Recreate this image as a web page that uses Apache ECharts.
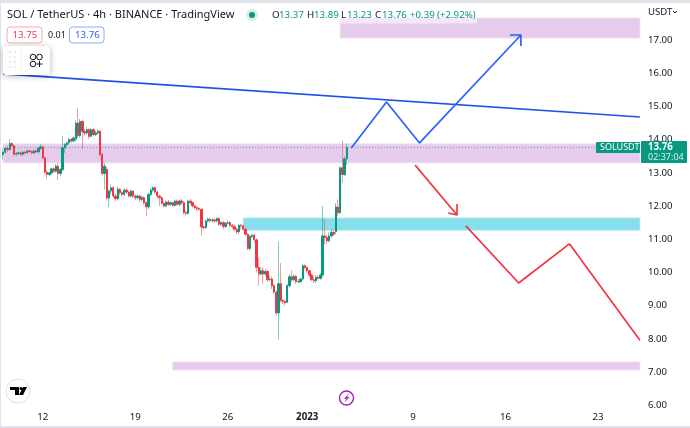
<!DOCTYPE html>
<html><head><meta charset="utf-8">
<script src="https://cdn.jsdelivr.net/npm/echarts@6/dist/echarts.min.js"></script>
<style>html,body{margin:0;padding:0;background:#fff}#c{width:690px;height:428px}</style>
</head><body><div id="c"></div>
<script>
const opens=[13.55,13.62,13.73,13.70,13.88,13.82,13.56,13.58,13.60,13.56,
13.62,13.60,13.66,13.64,13.60,13.66,13.63,13.74,13.78,13.45,
13.02,12.95,13.00,13.12,13.05,13.20,12.98,13.10,13.75,13.85,
13.90,14.00,13.96,14.02,14.50,14.12,14.55,14.25,14.20,14.30,
14.10,14.30,14.15,14.20,14.25,13.55,12.98,13.10,12.24,12.45,
12.55,12.30,12.22,12.50,12.40,12.35,12.48,12.42,12.30,12.45,
12.30,12.25,12.30,12.20,12.25,12.10,11.97,12.35,12.48,12.55,
12.42,12.30,12.25,12.08,12.00,12.12,12.05,12.10,12.02,12.15,
12.05,12.15,12.10,11.80,11.78,12.15,12.10,12.00,11.95,11.92,
11.90,11.37,11.35,11.55,11.60,11.56,11.58,11.55,11.62,11.45,
11.50,11.38,11.48,11.50,11.42,11.38,11.30,11.22,11.42,11.40,
11.30,11.15,10.72,11.08,11.12,10.98,10.15,9.95,10.05,9.95,
10.03,9.78,9.80,9.60,9.41,8.78,9.66,9.15,9.12,9.10,
9.60,9.87,9.78,9.88,9.72,9.72,9.80,10.20,10.15,10.05,
9.92,9.78,9.75,9.85,9.82,9.92,11.10,11.05,10.95,11.10,
11.20,11.22,11.97,11.80,13.15,12.95,13.42];
const closes=[13.62,13.73,13.70,13.88,13.82,13.56,13.58,13.60,13.56,13.62,
13.60,13.66,13.64,13.60,13.66,13.63,13.74,13.78,13.45,13.02,
12.95,13.00,13.12,13.05,13.20,12.98,13.10,13.75,13.85,13.90,
14.00,13.96,14.05,14.50,14.12,14.55,14.25,14.20,14.30,14.10,
14.30,14.15,14.20,14.25,13.55,12.98,13.20,12.24,12.45,12.55,
12.30,12.22,12.50,12.40,12.35,12.48,12.42,12.30,12.45,12.30,
12.25,12.30,12.20,12.25,12.10,11.97,12.35,12.48,12.55,12.42,
12.30,12.25,12.08,12.00,12.12,12.05,12.10,12.02,12.15,12.05,
12.15,12.10,11.80,11.78,12.15,12.10,12.00,11.95,11.92,11.90,
11.37,11.35,11.55,11.60,11.56,11.58,11.55,11.62,11.45,11.50,
11.38,11.48,11.50,11.42,11.38,11.30,11.22,11.42,11.40,11.30,
11.15,10.72,11.08,11.12,10.98,10.15,9.95,10.05,9.95,10.03,
9.78,9.80,9.60,9.41,8.78,9.66,9.15,9.12,9.08,9.60,
9.87,9.78,9.88,9.72,9.72,9.80,10.20,10.15,10.05,9.92,
9.78,9.75,9.85,9.82,9.92,11.10,11.05,10.95,11.10,11.20,
11.15,11.97,11.80,13.15,12.95,13.42,13.76];
const highs=[13.72,13.78,13.80,14.02,13.92,13.84,13.62,13.64,13.64,13.66,
13.66,13.70,13.70,13.68,13.70,13.70,13.78,13.86,13.82,13.48,
13.08,13.02,13.16,13.16,13.26,13.28,13.14,14.12,13.90,13.95,
14.05,14.05,14.10,14.58,14.95,14.62,14.58,14.32,14.38,14.34,
14.36,14.34,14.26,14.32,14.30,13.60,13.30,13.18,12.50,12.65,
12.60,12.38,12.58,12.54,12.45,12.54,12.52,12.46,12.50,12.48,
12.36,12.34,12.34,12.32,12.30,12.14,12.40,12.55,12.60,12.58,
12.46,12.34,12.28,12.12,12.16,12.18,12.12,12.14,12.20,12.20,
12.20,12.22,12.14,11.85,12.20,12.22,12.14,12.05,12.00,11.96,
11.93,11.42,11.60,11.66,11.66,11.64,11.62,11.66,11.66,11.54,
11.54,11.52,11.56,11.54,11.46,11.44,11.34,11.45,11.46,11.44,
11.34,11.18,11.12,11.16,11.15,11.02,10.45,10.15,10.15,10.10,
10.06,9.90,9.88,9.65,9.45,10.92,10.28,9.20,9.18,9.65,
9.95,10.06,9.94,9.92,9.80,9.85,10.25,10.24,10.18,10.08,
9.96,9.88,9.92,9.92,9.98,12.00,11.60,11.12,11.20,11.30,
11.30,12.09,12.20,13.20,13.97,13.50,13.89];
const lows=[13.40,13.58,13.62,13.66,13.78,13.50,13.50,13.54,13.50,13.52,
13.55,13.56,13.60,13.55,13.58,13.58,13.58,13.68,13.42,12.96,
12.80,12.90,12.94,13.00,13.00,12.78,12.90,13.05,13.60,13.80,
13.85,13.90,13.92,13.96,14.05,14.05,13.72,14.10,14.15,14.02,
14.06,14.10,14.10,14.15,13.50,12.90,12.50,12.20,11.97,12.35,
12.24,12.15,12.18,12.32,12.28,12.30,12.36,12.25,12.25,12.24,
12.18,12.20,12.12,12.15,12.04,11.70,11.90,12.30,12.42,12.36,
12.24,12.00,12.04,11.96,11.96,12.00,12.00,11.98,11.98,12.00,
11.98,12.05,11.75,11.72,11.74,12.05,11.96,11.90,11.85,11.85,
11.10,11.30,11.30,11.50,11.50,11.50,11.50,11.50,11.40,11.40,
11.30,11.34,11.44,11.36,11.32,11.24,11.15,11.16,11.30,11.26,
11.10,10.68,10.65,11.02,10.90,10.00,9.60,9.90,9.65,9.88,
9.72,9.72,9.50,9.35,8.70,7.97,9.10,9.05,9.00,9.08,
9.55,9.72,9.72,9.65,9.68,9.68,9.75,10.10,9.98,9.85,
9.75,9.68,9.68,9.78,9.78,9.85,10.85,10.85,10.90,11.05,
11.10,11.15,11.70,11.75,12.70,12.90,13.23];
const slotCount=290;
const dayTicks=[[18,'12'],[60,'19'],[102,'26'],[138,'2023'],[186,'9'],[228,'16'],[270,'23']];
const purpleZones=[[153,17.66,17.06],[0,13.87,13.3],[77,7.3,7.06]];
const cyanZones=[[109,11.64,11.27]];
const lastPrice=13.76;
const trendLine=[[0,15.98],[289,14.68]];
const bluePath=[[158,13.75],[174,15.13],[189,13.9],[235,17.15]];
const blueHead=[[230,17.15],[235,17.15],[235,16.82]];
const redArrow=[[187,13.23],[206,11.73]];
const redHead=[[202,11.79],[206,11.73],[206,12.06]];
const redPath=[[210,11.4],[234,9.68],[257,10.86],[289,7.96]];

const UP='#089981',DOWN='#F23645',BLUE='#2962FF',INK='#131722',FONT='"Noto Sans",sans-serif';
const tickMap=new Map(dayTicks);
const categories=Array.from({length:slotCount},(_,i)=>String(i));
const wickData=opens.map((o,i)=>[o,closes[i],lows[i],highs[i]]);
const bodyData=opens.map((o,i)=>[o,closes[i],Math.min(o,closes[i]),Math.max(o,closes[i])]);
const zone=(z,color,edge)=>[{xAxis:z[0],yAxis:z[1],itemStyle:{color,borderColor:edge,borderWidth:1}},{xAxis:slotCount-1,yAxis:z[2]}];
const poly=(data,color,w)=>({type:'line',data,symbol:'none',silent:true,z:6,animation:false,lineStyle:{color,width:w||1.7}});
const txt=(x,y,text,fill,extra)=>({type:'text',x,y,z:100,style:Object.assign({text,fill,font:'9.7px '+FONT,textVerticalAlign:'middle'},extra||{})});
const rect=(x,y,w,h,fill,extra)=>({type:'rect',z:99,shape:{x,y,width:w,height:h,r:(extra&&extra.r)||0},style:Object.assign({fill},extra&&extra.style||{})});
const circ=(cx,cy,r,style)=>({type:'circle',z:101,shape:{cx,cy,r},style});
const stroke={fill:'none',stroke:INK,lineWidth:1};
const dots=[];[52,57,62,67].forEach(y=>[10,15].forEach(x=>dots.push(circ(x,y,.7,{fill:'#c4c8d2'}))));

const chart=echarts.init(document.getElementById('c'),null,{renderer:'canvas'});
chart.setOption({
 animation:false,backgroundColor:'#fff',
 grid:{left:2,right:49,top:6.8,bottom:22.8},
 xAxis:{type:'category',data:categories,boundaryGap:true,
  axisLine:{show:false},axisTick:{show:false},splitLine:{show:false},
  axisLabel:{interval:i=>tickMap.has(i),margin:7,color:INK,fontFamily:FONT,fontSize:9.7,
   formatter:(v,i)=>{const t=tickMap.get(i);return t==='2023'?'{b|2023}':(t||'')},
   rich:{b:{fontWeight:'bold',fontSize:9.7,color:INK,fontFamily:FONT}}}},
 yAxis:{type:'value',position:'right',min:6,max:18,interval:1,scale:true,
  axisLine:{show:false},axisTick:{show:false},splitLine:{show:false},
  axisLabel:{margin:7,color:INK,fontFamily:FONT,fontSize:9.6,showMinLabel:true,
   formatter:v=>v===18?'':v.toFixed(2)}},
 series:[
  {type:'line',data:[],silent:true,z:1,markArea:{silent:true,z:1,data:[
    ...purpleZones.map(z=>zone(z,'#E6CCEC','#EFDDF2')),
    ...cyanZones.map(z=>zone(z,'#85DEEA','#B5EAF2'))]}},
  {type:'line',data:[[0,lastPrice],[slotCount-1,lastPrice]],symbol:'none',silent:true,z:2,
   lineStyle:{color:UP,width:1,type:[1,2],opacity:.65}},
  {type:'candlestick',data:wickData,barWidth:1,z:3,silent:true,
   itemStyle:{color:'rgba(8,153,129,.5)',color0:'rgba(242,54,69,.5)',borderColor:'rgba(8,153,129,.5)',borderColor0:'rgba(242,54,69,.5)',borderWidth:1}},
  {type:'candlestick',data:bodyData,barWidth:1.8,z:4,silent:true,
   itemStyle:{color:UP,color0:DOWN,borderColor:UP,borderColor0:DOWN,borderWidth:1}},
  poly(trendLine,'#1E4FE8',1.7),poly(bluePath,BLUE),poly(blueHead,BLUE),
  poly(redArrow,DOWN),poly(redHead,DOWN),poly(redPath,DOWN)
 ],
 graphic:{elements:[
  rect(0,0,690,3,'#E0E3EB'),rect(0,0,1,428,'#E0E3EB'),rect(0,426,690,2,'#E0E3EB'),
  rect(339,18,138,5.5,'rgba(255,255,255,.55)'),
  txt(7,15,'SOL / TetherUS · 4h · BINANCE · TradingView',INK,{font:'11px '+FONT}),
  circ(252,15,6,{fill:'#D6EFEB'}),circ(252,15,3,{fill:UP}),
  txt(272,15,'O',INK),txt(279,15,'13.37',UP),txt(307,15,'H',INK),txt(314,15,'13.89',UP),
  txt(341,15,'L',INK),txt(347,15,'13.23',UP),txt(375,15,'C',INK),txt(382,15,'13.76',UP),
  txt(410,15,'+0.39',UP),txt(437,15,'(+2.92%)',UP),
  rect(7,27,35,16,'#fff',{r:3,style:{stroke:'#F7A9B0',lineWidth:1}}),txt(12.5,35.5,'13.75',DOWN),
  txt(48,35.5,'0.01',INK,{font:'9px '+FONT}),
  rect(69.5,27,34.5,16,'#fff',{r:3,style:{stroke:'#8FA9FF',lineWidth:1}}),txt(75,35.5,'13.76',BLUE),
  rect(3,46,47,29,'#fff',{r:3,style:{shadowBlur:6,shadowColor:'rgba(0,0,0,.3)',shadowOffsetY:1}}),
  rect(21,46,1,29,'#F0F3FA'),...dots,
  circ(33,57,2.8,stroke),circ(39.5,57,2.8,stroke),circ(33,64,2.8,stroke),
  {type:'polyline',z:101,shape:{points:[[36.5,64],[42.5,64]]},style:stroke},
  {type:'polyline',z:101,shape:{points:[[39.5,61],[39.5,67]]},style:stroke},
  txt(648,12,'USDT',INK,{font:'9.6px '+FONT}),
  {type:'polyline',z:101,shape:{points:[[673,11],[675,13],[677,11]]},style:stroke},
  rect(596,142,44,11,UP,{r:1}),txt(600,147.5,'SOLUSDT','#fff',{font:'9px '+FONT}),
  rect(641,141,46,22,UP,{r:1}),txt(648,147,'13.76','#fff',{font:'bold 9.7px '+FONT}),
  txt(648,157.5,'02:37:04','#D5F0EA',{font:'9px '+FONT}),
  circ(18,391,12,{fill:'#fff',stroke:'#E0E3EB',lineWidth:1}),
  {type:'polygon',z:102,shape:{points:[[10,387],[19,387],[19,395],[15,395],[15,390],[10,390]]},style:{fill:'#000'}},
  circ(21,388.5,1.5,{fill:'#000'}),
  {type:'polygon',z:102,shape:{points:[[23,387],[27,387],[23,395],[19,395]]},style:{fill:'#000'}},
  circ(346.5,398,7,{fill:'#fff',stroke:'#9C27B0',lineWidth:1.4}),
  {type:'polygon',z:102,shape:{points:[[349,393.5],[344,398.8],[346.5,398.8],[344.5,402.5],[349.5,397],[347,397]]},style:{fill:'#9C27B0'}}
 ]}
});
</script></body></html>
